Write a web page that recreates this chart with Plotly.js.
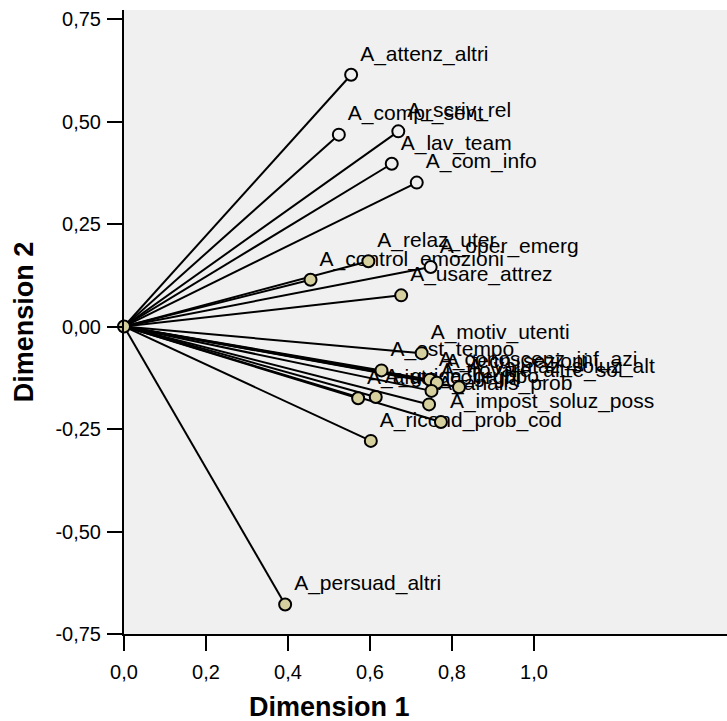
<!DOCTYPE html>
<html>
<head>
<meta charset="utf-8">
<script src="https://cdn.plot.ly/plotly-3.0.1.min.js"></script>
<style>html,body{margin:0;padding:0;background:#fff;}#chart{width:727px;height:721px;}</style>
</head>
<body>
<div id="chart"></div>
<script>
// Component loadings (Dimension 1, Dimension 2)
var labels = ["A_attenz_altri","A_compr_sent","A_scriv_rel","A_lav_team","A_com_info",
  "A_relaz_uter","A_control_emozioni","A_oper_emerg","A_usare_attrez","A_motiv_utenti",
  "A_est_tempo","A_conoscenz_inf_azi","A_tecn_sezioni","A_trovare_altre_sol","A_valutaz_soluz_alt",
  "A_analis_prob","A_impost_soluz_poss","A_aiuto_colleghi","A_guida_gruppo","A_ricond_prob_cod",
  "A_persuad_altri"];
var dim1 = [0.554,0.524,0.669,0.653,0.714,
  0.596,0.455,0.748,0.676,0.726,
  0.628,0.746,0.763,0.750,0.817,
  0.744,0.773,0.571,0.614,0.602,
  0.393];
var dim2 = [0.614,0.468,0.476,0.397,0.351,
  0.159,0.114,0.145,0.076,-0.065,
  -0.107,-0.130,-0.137,-0.157,-0.148,
  -0.190,-0.233,-0.175,-0.172,-0.279,
  -0.678];
var openMarker = [true,true,true,true,true,
  false,false,true,false,false,
  false,false,false,false,false,
  false,false,false,false,false,
  false];
var originX = [0], originY = [0];
var xTickVals = [0,0.2,0.4,0.6,0.8,1.0];
var xTickText = ["0,0","0,2","0,4","0,6","0,8","1,0"];
var yTickVals = [-0.75,-0.5,-0.25,0,0.25,0.5,0.75];
var yTickText = ["-0,75","-0,50","-0,25","0,00","0,25","0,50","0,75"];

var FONT = "Arial, 'Liberation Sans', Helvetica, sans-serif";
var KHAKI = "#d6cf9e";
var BG = "#f0f0f0";

var lx = [], ly = [];
for (var i = 0; i < dim1.length; i++) {
  lx.push(originX[0], dim1[i], null);
  ly.push(originY[0], dim2[i], null);
}
var fills = openMarker.map(function(o){ return o ? BG : KHAKI; });

var traces = [
  { // labels (drawn first so markers sit on top)
    x: dim1, y: dim2, text: labels, type: "scatter", mode: "markers+text",
    textposition: "top right", cliponaxis: false, hoverinfo: "skip",
    marker: {size: 12.8, color: "rgba(0,0,0,0)", line: {width: 0}},
    textfont: {family: FONT, size: 21, color: "#000"}, showlegend: false
  },
  { // vectors from origin
    x: lx, y: ly, type: "scatter", mode: "lines", cliponaxis: false,
    line: {color: "#000", width: 2}, hoverinfo: "skip", showlegend: false
  },
  { // loading points
    x: dim1, y: dim2, type: "scatter", mode: "markers", cliponaxis: false,
    marker: {size: 12, color: fills, line: {color: "#000", width: 2}},
    showlegend: false
  },
  { // origin
    x: originX, y: originY, type: "scatter", mode: "markers", cliponaxis: false,
    marker: {size: 12, color: KHAKI, line: {color: "#000", width: 2}},
    showlegend: false
  }
];

var layout = {
  width: 727, height: 721,
  margin: {l: 124, r: 0, t: 10, b: 87, pad: 0},
  paper_bgcolor: "#fff", plot_bgcolor: BG,
  font: {family: FONT, size: 20, color: "#000"},
  showlegend: false,
  xaxis: {
    range: [0, 1.4707], tickvals: xTickVals, ticktext: xTickText,
    showgrid: false, zeroline: false, showline: true, linecolor: "#000", linewidth: 2,
    ticks: "outside", ticklen: 15, tickwidth: 2, tickcolor: "#000",
    ticklabelstandoff: 4,
    tickfont: {family: FONT, size: 20, color: "#000"}
  },
  yaxis: {
    range: [-0.75, 0.772], tickvals: yTickVals, ticktext: yTickText,
    showgrid: false, zeroline: false, showline: true, linecolor: "#000", linewidth: 2,
    ticks: "outside", ticklen: 15, tickwidth: 2, tickcolor: "#000",
    ticklabelstandoff: 2,
    tickfont: {family: FONT, size: 20, color: "#000"},
    title: {text: "<b>Dimension 2</b>", font: {family: FONT, size: 27, color: "#000"}, standoff: 14}
  },
  annotations: [{
    text: "<b>Dimension 1</b>", xref: "x", yref: "paper", x: 0.5, y: 0,
    xanchor: "center", yanchor: "middle", yshift: -73, showarrow: false,
    font: {family: FONT, size: 27, color: "#000"}
  }]
};

Plotly.newPlot("chart", traces, layout, {displayModeBar: false, staticPlot: true});
</script>
</body>
</html>
